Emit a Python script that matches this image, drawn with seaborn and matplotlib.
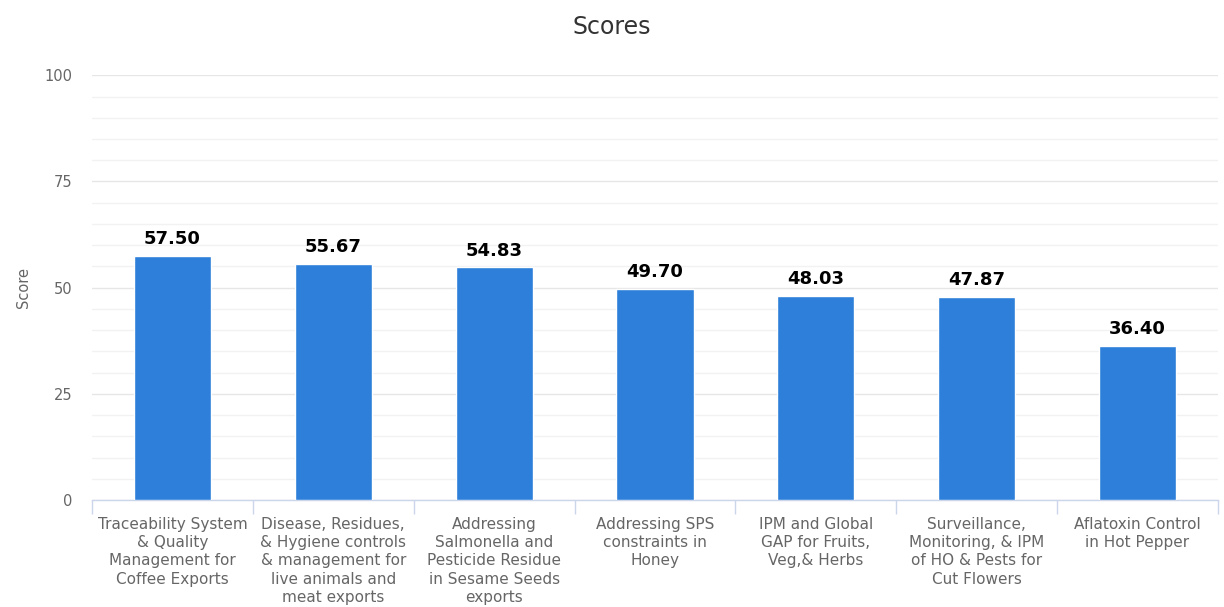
import numpy as np
import pandas as pd
import seaborn as sns
import matplotlib.pyplot as plt
from matplotlib.ticker import MultipleLocator, FixedLocator, NullFormatter

categories = [
    "Traceability System\n& Quality\nManagement for\nCoffee Exports",
    "Disease, Residues,\n& Hygiene controls\n& management for\nlive animals and\nmeat exports",
    "Addressing\nSalmonella and\nPesticide Residue\nin Sesame Seeds\nexports",
    "Addressing SPS\nconstraints in\nHoney",
    "IPM and Global\nGAP for Fruits,\nVeg,& Herbs",
    "Surveillance,\nMonitoring, & IPM\nof HO & Pests for\nCut Flowers",
    "Aflatoxin Control\nin Hot Pepper",
]
scores = [57.50, 55.67, 54.83, 49.70, 48.03, 47.87, 36.40]

df = pd.DataFrame({"Project": categories, "Score": scores})

sns.set_style("white")
plt.rcParams["font.family"] = ["DejaVu Sans"]

fig = plt.figure(figsize=(12.24, 6.07), dpi=100)
ax = fig.add_axes([0.0752, 0.176, 0.9198, 0.7])

sns.barplot(data=df, x="Project", y="Score", color="#2e7fd9", width=0.48,
            saturation=1, ax=ax, zorder=3)

ax.set_xlim(-0.5, len(categories) - 0.5)
ax.set_ylim(0, 100)
ax.yaxis.set_major_locator(MultipleLocator(25))
ax.yaxis.set_minor_locator(MultipleLocator(5))
ax.grid(axis="y", which="major", color="#e6e6e6", lw=1, zorder=0)
ax.grid(axis="y", which="minor", color="#f2f2f2", lw=1, zorder=0)

for s in ["top", "right", "left"]:
    ax.spines[s].set_visible(False)
ax.spines["bottom"].set_color("#ccd6eb")
ax.spines["bottom"].set_linewidth(1)

ax.tick_params(axis="y", which="both", length=0, labelsize=10.5, labelcolor="#666666", pad=14)
ax.tick_params(axis="x", which="major", length=0, labelsize=11, labelcolor="#666666", pad=12)
ax.xaxis.set_minor_locator(FixedLocator(np.arange(-0.5, len(categories), 1)))
ax.xaxis.set_minor_formatter(NullFormatter())
ax.tick_params(axis="x", which="minor", bottom=True, length=10, color="#ccd6eb",
               width=1, direction="out")
for lbl in ax.get_xticklabels():
    lbl.set_linespacing(1.27)

for i, v in enumerate(scores):
    ax.text(i, v + 1.8, f"{v:.2f}", ha="center", va="bottom", fontsize=13,
            fontweight="bold", color="#000000")

ax.set_xlabel("")
ax.set_ylabel("Score", fontsize=10.5, color="#666666", labelpad=10)
fig.suptitle("Scores", fontsize=17, color="#333333", y=0.975)

fig.savefig("out.png", dpi=100)
